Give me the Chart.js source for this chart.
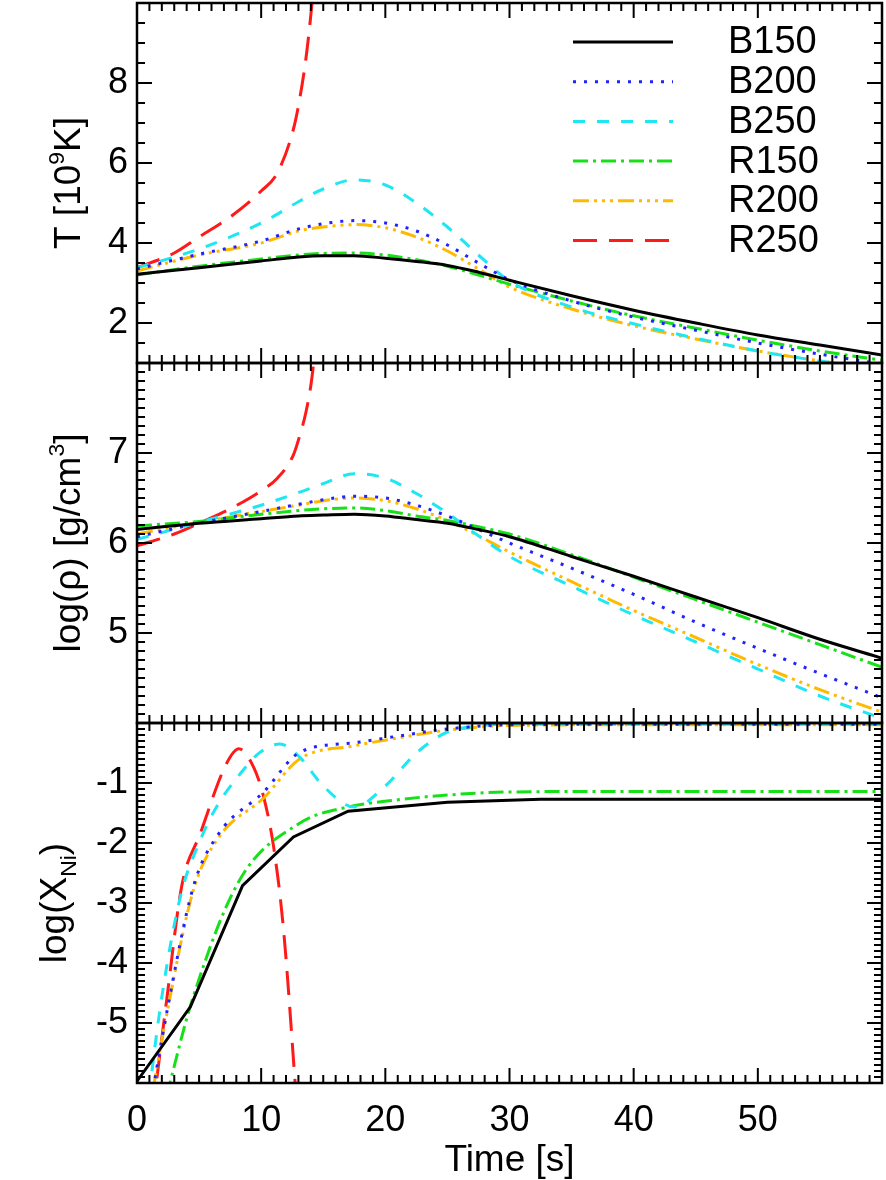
<!DOCTYPE html>
<html>
<head>
<meta charset="utf-8">
<script src="https://cdn.jsdelivr.net/npm/chart.js@4.4.1/dist/chart.umd.min.js"></script>
<style>
  html, body { margin: 0; padding: 0; background: #fff; }
</style>
</head>
<body>
<canvas id="c" width="886" height="1180"></canvas>
<script>
// models
var names = ["B150", "B200", "B250", "R150", "R200", "R250"];

// shared time grid [s] for temperature and density (all but R250)
var gridTime = [0, 5, 10, 13, 15, 17.5, 20, 22.5, 25, 27.5, 30, 35, 40, 45, 50, 55, 60];

// peak temperature [10^9 K]
var tempB150 = [3.22, 3.38, 3.55, 3.65, 3.68, 3.68, 3.62, 3.54, 3.44, 3.27, 3.07, 2.68, 2.32, 2.0, 1.7, 1.45, 1.2];
var tempB200 = [3.35, 3.72, 4.05, 4.35, 4.48, 4.56, 4.5, 4.3, 3.95, 3.5, 3.08, 2.55, 2.15, 1.82, 1.5, 1.22, 0.97];
var tempB250 = [3.38, 3.85, 4.5, 5.03, 5.35, 5.58, 5.45, 5.0, 4.4, 3.7, 3.05, 2.4, 1.98, 1.62, 1.3, 1.05, 0.85];
var tempR150 = [3.2, 3.42, 3.6, 3.7, 3.74, 3.75, 3.7, 3.58, 3.42, 3.2, 2.97, 2.55, 2.18, 1.87, 1.57, 1.3, 1.07];
var tempR200 = [3.3, 3.7, 4.0, 4.3, 4.4, 4.46, 4.38, 4.15, 3.8, 3.35, 2.9, 2.35, 1.93, 1.6, 1.3, 1.05, 0.85];
var timeR250 = [0, 3, 5, 7.5, 10, 11.3, 12.6, 13.1, 13.6, 14, 14.4];
var tempR250 = [3.38, 3.75, 4.15, 4.65, 5.3, 5.75, 6.85, 7.6, 8.6, 9.7, 11];

// log density [g/cm^3]
var rhoB150 = [6.15, 6.22, 6.27, 6.3, 6.31, 6.32, 6.3, 6.26, 6.22, 6.15, 6.07, 5.85, 5.63, 5.4, 5.17, 4.93, 4.72];
var rhoB200 = [6.07, 6.22, 6.35, 6.43, 6.48, 6.52, 6.5, 6.42, 6.3, 6.15, 6.0, 5.72, 5.43, 5.12, 4.83, 4.55, 4.28];
var rhoB250 = [6.04, 6.23, 6.42, 6.56, 6.66, 6.77, 6.72, 6.55, 6.33, 6.08, 5.85, 5.52, 5.2, 4.9, 4.6, 4.3, 4.05];
var rhoR150 = [6.19, 6.24, 6.32, 6.36, 6.38, 6.39, 6.36, 6.3, 6.25, 6.18, 6.1, 5.87, 5.62, 5.37, 5.12, 4.87, 4.62];
var rhoR200 = [6.1, 6.23, 6.35, 6.42, 6.47, 6.5, 6.47, 6.38, 6.25, 6.08, 5.9, 5.57, 5.25, 4.95, 4.65, 4.37, 4.12];
var rhoR250 = [5.97, 6.1, 6.22, 6.38, 6.58, 6.72, 6.98, 7.19, 7.45, 7.75, 8.2];

// log Ni mass fraction
var niTimeB150 = [0, 4.3, 8.5, 12.6, 17, 25, 32.5, 45, 60];
var niB150 = [-5.97, -4.73, -2.71, -1.9, -1.47, -1.32, -1.27, -1.27, -1.27];
var niTimeB200 = [1.3, 2.4, 4.55, 6.6, 10.2, 13.1, 17.5, 21, 25, 30, 40, 60];
var niB200 = [-6.1, -4.82, -2.72, -1.84, -1.15, -0.49, -0.33, -0.22, -0.1, -0.03, -0.02, -0.02];
var niTimeB250 = [1.0, 1.2, 2.1, 3.5, 5.1, 6.4, 8.3, 9.9, 11.5, 13.1, 15, 17.5, 20, 22.5, 25, 27.5, 30, 60];
var niB250 = [-6.2, -5.81, -4.43, -2.89, -1.95, -1.4, -0.85, -0.49, -0.35, -0.57, -1.05, -1.4, -1.05, -0.5, -0.15, -0.05, -0.02, -0.02];
var niTimeR150 = [2.4, 4.4, 8.2, 13.1, 17, 21, 25, 30, 40, 60];
var niR150 = [-6.2, -4.65, -2.64, -1.67, -1.4, -1.28, -1.2, -1.15, -1.14, -1.14];
var niTimeR200 = [1.3, 2.4, 4.55, 6.6, 10.2, 13.1, 17.5, 21, 25, 30, 40, 60];
var niR200 = [-6.1, -4.85, -2.78, -1.9, -1.25, -0.6, -0.38, -0.25, -0.12, -0.04, -0.03, -0.03];
var niTimeR250 = [1.6, 2.4, 3.6, 5.1, 7.2, 8.2, 9.4, 10.2, 11.0, 11.8, 12.7, 12.9];
var niR250 = [-5.92, -4.6, -2.72, -1.84, -0.68, -0.43, -0.74, -1.23, -2.06, -3.44, -5.9, -6.5];

// tick labels
var timeTicks = [0, 10, 20, 30, 40, 50];
var tempTicks = [2, 4, 6, 8];
var rhoTicks = [5, 6, 7];
var niTicks = [-5, -4, -3, -2, -1];

// line styles per model
var colors = ["#000000", "#2222ff", "#1ee6f2", "#18e018", "#ffba00", "#ff1a1a"];
var dashes = [[], [3, 8], [12, 12], [15, 5, 3, 5], [16, 5, 3, 5, 3, 5, 3, 5], [24, 12]];

var FONT = "'Liberation Sans', Arial, Helvetica, sans-serif";
var TICK_SIZE = 36;
var TITLE_SIZE = 37;

function pts(times, vals) {
  return times.map(function (t, i) { return { x: t, y: vals[i] }; });
}

function line(i, times, vals, axis, straight) {
  return {
    label: names[i],
    data: pts(times, vals),
    yAxisID: axis,
    borderColor: colors[i],
    borderDash: dashes[i],
    borderWidth: 3,
    pointRadius: 0,
    fill: false,
    cubicInterpolationMode: straight ? "default" : "monotone",
    tension: 0
  };
}

var datasets = [
  line(0, gridTime, tempB150, "yT"),
  line(1, gridTime, tempB200, "yT"),
  line(2, gridTime, tempB250, "yT"),
  line(3, gridTime, tempR150, "yT"),
  line(4, gridTime, tempR200, "yT"),
  line(5, timeR250, tempR250, "yT"),
  line(0, gridTime, rhoB150, "yRho"),
  line(1, gridTime, rhoB200, "yRho"),
  line(2, gridTime, rhoB250, "yRho"),
  line(3, gridTime, rhoR150, "yRho"),
  line(4, gridTime, rhoR200, "yRho"),
  line(5, timeR250, rhoR250, "yRho"),
  line(0, niTimeB150, niB150, "yNi", true),
  line(1, niTimeB200, niB200, "yNi"),
  line(2, niTimeB250, niB250, "yNi"),
  line(3, niTimeR150, niR150, "yNi"),
  line(4, niTimeR200, niR200, "yNi"),
  line(5, niTimeR250, niR250, "yNi")
];

// panel decorations: minor / major tick steps and axis titles
var panels = [
  { id: "yT", minor: 0.5, major: 2, title: [["T [10", 0], ["9", 1], ["K]", 0]], base: 80 },
  { id: "yRho", minor: 0.1, major: 1, title: [["log(\u03c1) [g/cm", 0], ["3", 1], ["]", 0]], base: 80 },
  { id: "yNi", minor: 0.1, major: 1, title: [["log(X", 0], ["Ni", -1], [")", 0]], base: 66 }
];

function fixedTicks(list) {
  return function (s) { s.ticks = list.map(function (v) { return { value: v }; }); };
}

function yScale(list, min, max, w) {
  return {
    type: "linear",
    position: "left",
    stack: "panels",
    stackWeight: 1,
    weight: w,
    min: min,
    max: max,
    grid: { display: false, drawTicks: false },
    border: { display: false },
    afterBuildTicks: fixedTicks(list),
    afterFit: function (s) { s.width = 137; s.paddingTop = 0; s.paddingBottom = 0; },
    ticks: {
      color: "#000",
      padding: 9,
      font: { family: FONT, size: TICK_SIZE },
      callback: function (v) { return String(v); }
    }
  };
}

var framePlugin = {
  id: "frame",
  afterDatasetsDraw: function (chart) {
    var ctx = chart.ctx, xs = chart.scales.x;
    var L = xs.left, R = xs.right;
    ctx.save();
    ctx.strokeStyle = "#000";
    panels.forEach(function (p) {
      var s = chart.scales[p.id];
      var T = s.top, B = s.bottom;
      ctx.lineWidth = 2;
      ctx.beginPath();
      for (var t = 1; t < 60; t++) {
        var px = xs.getPixelForValue(t);
        var len = t % 10 === 0 ? 15 : 8;
        ctx.moveTo(px, B); ctx.lineTo(px, B - len);
        ctx.moveTo(px, T); ctx.lineTo(px, T + len);
      }
      var i0 = Math.ceil(s.min / p.minor - 1e-6), i1 = Math.floor(s.max / p.minor + 1e-6);
      for (var i = i0; i <= i1; i++) {
        var v = i * p.minor;
        var r = v / p.major;
        var len2 = Math.abs(r - Math.round(r)) < 1e-6 ? 15 : 8;
        var py = s.getPixelForValue(v);
        ctx.moveTo(L, py); ctx.lineTo(L + len2, py);
        ctx.moveTo(R, py); ctx.lineTo(R - len2, py);
      }
      ctx.stroke();
      ctx.lineWidth = 2.5;
      ctx.strokeRect(L, T, R - L, B - T);

      // rotated axis title with super/subscripts
      var size = TITLE_SIZE;
      ctx.save();
      ctx.translate(p.base, (T + B) / 2);
      ctx.rotate(-Math.PI / 2);
      ctx.fillStyle = "#000";
      ctx.textBaseline = "alphabetic";
      var total = 0;
      p.title.forEach(function (part) {
        ctx.font = (part[1] ? size * 0.62 : size) + "px " + FONT;
        total += ctx.measureText(part[0]).width;
      });
      var x = -total / 2;
      p.title.forEach(function (part) {
        ctx.font = (part[1] ? size * 0.62 : size) + "px " + FONT;
        var dy = part[1] === 1 ? -size * 0.42 : part[1] === -1 ? size * 0.28 : 0;
        ctx.fillText(part[0], x, dy);
        x += ctx.measureText(part[0]).width;
      });
      ctx.restore();
    });

    // x title
    ctx.fillStyle = "#000";
    ctx.font = TITLE_SIZE + "px " + FONT;
    ctx.textAlign = "center";
    ctx.textBaseline = "middle";
    ctx.fillText("Time [s]", (L + R) / 2, 1161);

    // legend inside top panel
    ctx.textAlign = "left";
    ctx.font = "38px " + FONT;
    for (var k = 0; k < names.length; k++) {
      var ly = 42 + k * 39.7;
      ctx.beginPath();
      ctx.setLineDash(dashes[k]);
      ctx.strokeStyle = colors[k];
      ctx.lineWidth = 3;
      ctx.moveTo(573, ly); ctx.lineTo(673, ly);
      ctx.stroke();
      ctx.setLineDash([]);
      ctx.fillText(names[k], 728, ly + 1);
    }
    ctx.restore();
  }
};

new Chart("c", {
  type: "line",
  data: { datasets: datasets },
  options: {
    responsive: false,
    animation: false,
    events: [],
    devicePixelRatio: 1,
    layout: { padding: { top: 3, right: 4, left: 0, bottom: 0 } },
    plugins: { legend: { display: false }, tooltip: { enabled: false } },
    scales: {
      x: {
        type: "linear",
        min: 0,
        max: 60,
        grid: { display: false, drawTicks: false },
        border: { display: false },
        afterBuildTicks: fixedTicks(timeTicks),
        afterFit: function (s) { s.height = 97; s.paddingLeft = 0; s.paddingRight = 0; },
        ticks: {
          color: "#000",
          padding: 16,
          maxRotation: 0,
          font: { family: FONT, size: TICK_SIZE },
          callback: function (v) { return String(v); }
        }
      },
      yNi: yScale(niTicks, -6, 0, 1),
      yRho: yScale(rhoTicks, 4, 8, 2),
      yT: yScale(tempTicks, 1, 10, 3)
    }
  },
  plugins: [framePlugin]
});
</script>
</body>
</html>
